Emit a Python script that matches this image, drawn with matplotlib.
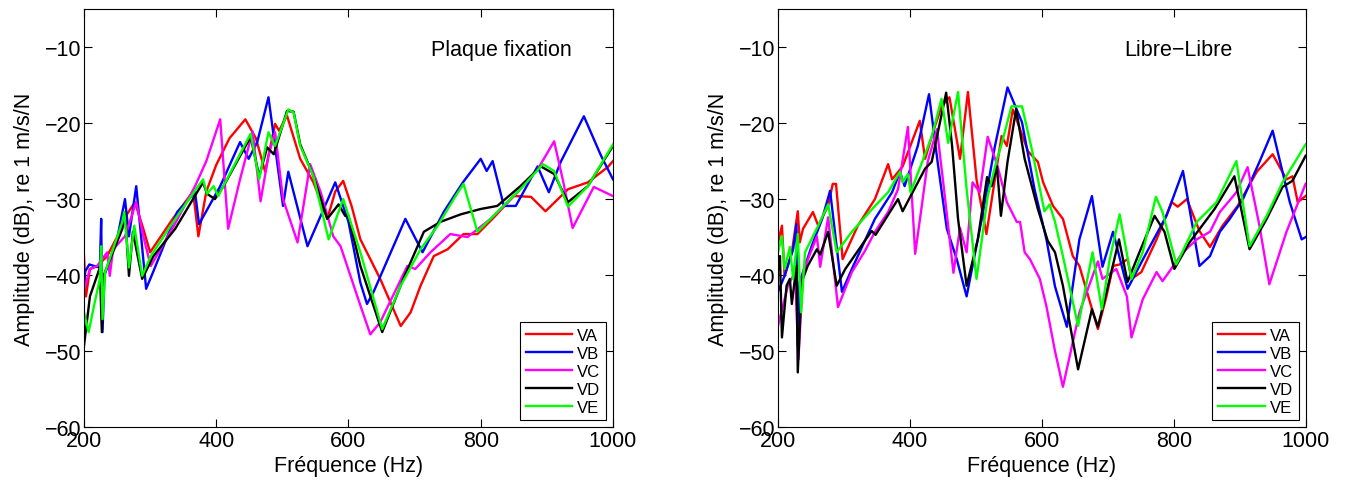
import numpy as np
import matplotlib
matplotlib.use("Agg")
import matplotlib.pyplot as plt

plt.rcParams['font.family'] = ['Liberation Sans', 'DejaVu Sans']

# ---- Plaque fixation (left) ----
fa_fix = [200, 203, 209, 220, 235, 250, 265, 277, 290, 300, 335, 365, 373, 385, 400, 420, 444, 460, 474, 489, 495, 507, 527, 547, 568, 580, 592, 605, 618, 648, 679, 694, 709, 729, 750, 774, 795, 820, 850, 876, 898, 932, 962, 992, 1000]
va_fix = [-37.5, -42.8, -39.2, -38.8, -37.5, -35, -32, -30.4, -34, -37, -32.5, -29, -34.9, -29, -25.5, -22, -19.5, -22, -26.4, -20.1, -21, -19, -24.7, -27.8, -32.6, -29, -27.6, -31, -35.3, -40.5, -46.7, -44.9, -41.4, -37.5, -36.6, -34.6, -34.6, -32.4, -29.6, -29.7, -31.6, -28.7, -27.8, -25.8, -25]

fb_fix = [200, 202, 208, 219, 224, 226, 228, 231, 250, 262, 268, 279, 294, 305, 341, 368, 374, 406, 436, 449, 462, 479, 501, 509, 538, 580, 600, 618, 628, 638, 686, 712, 744, 773, 800, 809, 818, 835, 853, 886, 903, 921, 956, 982, 1000]
vb_fix = [-41, -39.5, -38.6, -38.9, -39, -32.6, -47.5, -40, -35.3, -30, -34.9, -28.3, -41.8, -39.5, -31.7, -29.1, -33.3, -28.3, -22.5, -24.7, -22.5, -16.6, -30.9, -26.4, -36.2, -27.8, -33, -41, -43.8, -42.2, -32.6, -37, -31.7, -27.8, -24.7, -26.3, -25, -30.9, -30.9, -25.7, -29.1, -25.1, -19.1, -24.3, -27.4]

fc_fix = [200, 209, 220, 235, 239, 244, 262, 279, 290, 301, 336, 368, 385, 406, 418, 436, 455, 467, 479, 489, 501, 523, 542, 558, 577, 588, 618, 633, 648, 689, 701, 724, 754, 780, 815, 856, 886, 911, 924, 939, 971, 1000]
vc_fix = [-42, -39.2, -38.8, -37, -40.1, -36.6, -34.9, -30.4, -35, -38.8, -33.5, -28.3, -25, -19.5, -33.9, -27.4, -21.1, -30.3, -24.3, -21.2, -30, -35.7, -25.4, -29.1, -34.9, -36.2, -44, -47.8, -46.2, -38.8, -39.2, -37, -34.6, -35, -32.6, -29.1, -26.1, -22.4, -27.4, -33.8, -28.4, -29.6]

fd_fix = [200, 209, 224, 227, 230, 258, 262, 268, 274, 288, 305, 338, 380, 386, 398, 411, 452, 465, 477, 487, 507, 517, 527, 547, 568, 585, 595, 600, 618, 651, 683, 714, 739, 770, 800, 825, 860, 891, 911, 932, 962, 1000]
vd_fix = [-49.3, -42.8, -39, -47.5, -40, -33.9, -31.7, -40.1, -34.3, -40.5, -37.5, -33.9, -27.8, -29.3, -30, -28.3, -21.8, -27, -23.2, -24.1, -18.4, -18.5, -22.8, -27, -32.6, -30.7, -32.2, -32.2, -38.8, -47.5, -40.5, -34.3, -33, -32, -31.3, -30.9, -28.3, -25.7, -26.7, -30.4, -28.3, -23]

fe_fix = [200, 207, 215, 224, 226, 228, 232, 258, 261, 268, 276, 288, 301, 338, 380, 386, 396, 403, 452, 465, 479, 489, 509, 517, 527, 547, 570, 592, 618, 651, 679, 709, 735, 762, 774, 795, 825, 860, 894, 911, 932, 962, 1000]
ve_fix = [-44.9, -47.5, -44.1, -40.5, -36.2, -45.8, -39.6, -33, -31.7, -39, -33.5, -40.1, -37.5, -32.6, -27.4, -29.3, -28.3, -29.6, -21.4, -27.4, -21.2, -23, -18.2, -18.6, -23, -27, -35.3, -30, -37, -47.1, -41.4, -36.6, -33.5, -29.6, -28, -34.3, -31.7, -28.7, -25.4, -26.3, -31, -28.3, -22.8]

# ---- Libre-Libre (right) ----
fa_lib = [200, 206, 210, 221, 230, 233, 238, 253, 261, 276, 283, 288, 298, 321, 347, 367, 373, 389, 415, 423, 438, 448, 460, 476, 488, 501, 516, 539, 547, 556, 567, 579, 594, 602, 617, 632, 647, 657, 685, 698, 708, 718, 730, 736, 751, 774, 797, 806, 820, 839, 855, 874, 897, 926, 950, 971, 980, 988, 1000]
va_lib = [-35.7, -33.5, -40.1, -37, -31.6, -35.7, -33.9, -31.7, -33.5, -30.9, -28, -28, -37.9, -33.5, -30, -25.4, -27.4, -25.7, -19.7, -24.7, -20.4, -17.8, -16.6, -24.7, -15.9, -27.4, -34.6, -21.7, -23, -18.2, -20.8, -23.7, -25.1, -27.8, -30.9, -32.6, -37.5, -38.8, -47.1, -42.8, -38.8, -38.6, -37.9, -40.5, -39.6, -35.3, -30.4, -31, -30, -34.2, -36.3, -33.5, -30.9, -26.4, -24.1, -27.4, -27, -30.4, -29.6]

fb_lib = [200, 210, 223, 228, 230, 233, 251, 267, 279, 297, 312, 347, 373, 385, 392, 412, 429, 442, 456, 471, 486, 509, 529, 548, 570, 589, 607, 620, 638, 657, 676, 692, 708, 730, 756, 789, 814, 839, 855, 870, 885, 905, 930, 950, 976, 994, 1000]
vb_lib = [-42.2, -40.1, -36.6, -33.3, -49.3, -40.9, -36.2, -32.6, -28.9, -42.2, -39.2, -32.6, -29.1, -26.4, -28.3, -23, -16.2, -25.1, -33.9, -37.9, -42.8, -32.6, -23, -15.3, -19.9, -28.7, -35.3, -41.5, -46.8, -35.3, -29.6, -38.9, -34.3, -41.8, -37.5, -32.2, -26.3, -38.8, -37.5, -34.3, -32.6, -30, -25.1, -21, -30.4, -35.3, -35]

fc_lib = [200, 215, 226, 231, 238, 259, 264, 276, 291, 312, 332, 347, 367, 382, 397, 408, 418, 427, 441, 450, 458, 466, 476, 486, 495, 506, 518, 533, 547, 562, 567, 574, 582, 597, 607, 620, 632, 657, 685, 692, 713, 729, 736, 753, 774, 783, 814, 835, 855, 870, 895, 912, 930, 945, 971, 1000]
vc_lib = [-46.7, -41.4, -39.6, -51.1, -39.6, -34.9, -38.9, -32.4, -44.2, -39.6, -36.8, -34.3, -31.7, -28.7, -20.5, -37.2, -30.9, -25.1, -20.8, -27.4, -33.5, -39.7, -33.8, -37, -27.8, -29.1, -21.8, -25.7, -30.4, -33, -33, -37, -37.9, -40.5, -44.1, -50, -54.7, -44.9, -38.2, -40.5, -39.2, -42.8, -48.2, -43.2, -39.6, -40.8, -37, -35.3, -34.3, -31.7, -29.1, -25.8, -33.5, -41.2, -34.3, -28]

fd_lib = [200, 203, 206, 213, 218, 221, 228, 230, 236, 245, 259, 264, 276, 289, 302, 342, 348, 382, 389, 423, 433, 455, 464, 473, 486, 503, 517, 524, 532, 538, 548, 561, 574, 594, 609, 620, 632, 655, 676, 685, 703, 717, 730, 748, 771, 786, 801, 824, 862, 892, 915, 941, 965, 980, 1000]
vd_lib = [-39.2, -37.5, -48.2, -41.4, -40.5, -43.8, -38.8, -52.8, -40.9, -38.8, -36.6, -37.3, -34.3, -41.4, -39.2, -34.2, -34.7, -30, -31.6, -26, -25.1, -16, -23, -32.6, -41.4, -35.3, -27.1, -28.3, -25.7, -32.2, -25.1, -18.2, -24.7, -31.3, -35.5, -37, -41.4, -52.4, -44.5, -46.8, -40.5, -35.3, -40.9, -37, -32.2, -34.3, -39.2, -35.7, -31.3, -27, -36.6, -32.6, -28.4, -27.6, -24.3]

fe_lib = [200, 206, 210, 218, 223, 230, 235, 241, 261, 276, 289, 312, 347, 367, 385, 389, 397, 401, 423, 433, 448, 458, 473, 486, 501, 518, 532, 539, 554, 570, 585, 604, 612, 620, 632, 655, 677, 691, 703, 718, 736, 753, 773, 783, 804, 835, 865, 895, 915, 941, 965, 1000]
ve_lib = [-37, -34.9, -39.2, -36.3, -40.5, -34.6, -44.9, -37, -33.5, -30.7, -37, -34.3, -30.9, -29.1, -26.4, -27.8, -26.7, -29.1, -24.1, -21.8, -16.8, -22.6, -15.9, -28.7, -40.5, -29.6, -24.7, -22.8, -17.8, -17.8, -23.5, -31.6, -30.7, -33, -37.5, -46.7, -37, -44.5, -37.9, -32, -40.5, -37, -29.7, -31.7, -38.6, -33, -30.4, -25, -36.2, -32.2, -27.8, -22.8]

labels = ['VA', 'VB', 'VC', 'VD', 'VE']
colors = ['#ff0000', '#0000ff', '#ff00ff', '#000000', '#00ff00']

panels = [
    ("Plaque fixation", [(fa_fix, va_fix), (fb_fix, vb_fix), (fc_fix, vc_fix), (fd_fix, vd_fix), (fe_fix, ve_fix)]),
    ("Libre\u2212Libre", [(fa_lib, va_lib), (fb_lib, vb_lib), (fc_lib, vc_lib), (fd_lib, vd_lib), (fe_lib, ve_lib)]),
]

fig = plt.figure(figsize=(13.46, 4.81), dpi=100)
positions = [[0.0624, 0.110, 0.393, 0.869], [0.578, 0.110, 0.392, 0.869]]

for pos, (title, curves) in zip(positions, panels):
    ax = fig.add_axes(pos)
    for (f, v), lab, c in zip(curves, labels, colors):
        ax.plot(f, v, color=c, lw=1.7, label=lab)
    ax.set_xlim(200, 1000)
    ax.set_ylim(-60, -5)
    ax.set_xticks([200, 400, 600, 800, 1000])
    ax.set_yticks([-60, -50, -40, -30, -20, -10])
    ax.tick_params(direction='in', top=True, right=True, labelsize=15.5, length=6, pad=2)
    ax.set_xlabel("Fr\u00e9quence (Hz)", fontsize=15.5, labelpad=3)
    ax.set_ylabel("Amplitude (dB), re 1 m/s/N", fontsize=15.5, labelpad=7)
    ax.text(725, -10.3, title, fontsize=15.5, ha='left', va='center')
    leg = ax.legend(loc='lower right', fontsize=12, fancybox=False, framealpha=1,
                    edgecolor='black', handlelength=2.8, borderaxespad=0.4,
                    labelspacing=0.18, handletextpad=0.3, borderpad=0.35)
    leg.get_frame().set_linewidth(0.8)

fig.savefig("out.png", dpi=100)
